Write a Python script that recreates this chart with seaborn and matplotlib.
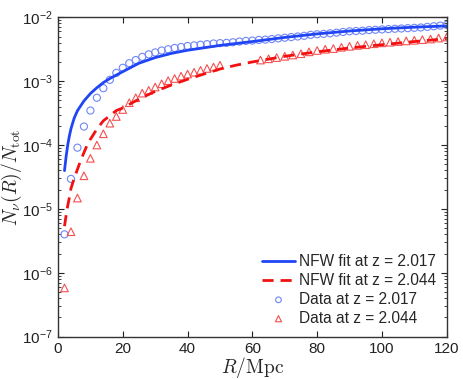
import numpy as np
import matplotlib
matplotlib.use("Agg")
import matplotlib.pyplot as plt
import seaborn as sns

# 数据：R (Mpc) 与 N_nu(R)/N_tot
r_data_1 = list(range(2, 122, 2))
n_data_1 = [4.0e-6, 2.95e-5, 9.1e-5, 1.95e-4, 3.47e-4, 5.5e-4, 7.76e-4, 1.05e-3, 1.35e-3, 1.62e-3,
            1.91e-3, 2.14e-3, 2.40e-3, 2.63e-3, 2.82e-3, 3.02e-3, 3.16e-3, 3.31e-3, 3.43e-3, 3.55e-3,
            3.63e-3, 3.72e-3, 3.80e-3, 3.89e-3, 3.94e-3, 3.98e-3, 4.07e-3, 4.17e-3, 4.27e-3, 4.32e-3,
            4.42e-3, 4.47e-3, 4.57e-3, 4.68e-3, 4.79e-3, 4.90e-3, 5.01e-3, 5.13e-3, 5.31e-3, 5.43e-3,
            5.50e-3, 5.62e-3, 5.75e-3, 5.89e-3, 6.03e-3, 6.10e-3, 6.17e-3, 6.31e-3, 6.38e-3, 6.46e-3,
            6.53e-3, 6.61e-3, 6.68e-3, 6.76e-3, 6.84e-3, 6.92e-3, 7.08e-3, 7.24e-3, 7.41e-3, 7.59e-3]

r_data_2 = [2, 4, 6, 8, 10, 12, 14, 16, 18, 20, 22, 24, 26, 28, 30, 32, 34, 36, 38, 40, 42, 44, 46, 48, 50,
            62.5, 65, 67.5, 70, 72.5, 75, 77.5, 80, 82.5, 85, 87.5, 90, 92.5, 95, 97.5, 100,
            102.5, 105, 107.5, 110, 112.5, 115, 117.5, 120]
n_data_2 = [5.8e-7, 4.4e-6, 1.48e-5, 3.3e-5, 6.2e-5, 1.0e-4, 1.5e-4, 2.2e-4, 2.8e-4, 3.6e-4,
            4.6e-4, 5.5e-4, 6.5e-4, 7.2e-4, 8.1e-4, 9.1e-4, 1.02e-3, 1.10e-3, 1.20e-3, 1.29e-3,
            1.38e-3, 1.48e-3, 1.58e-3, 1.66e-3, 1.78e-3,
            2.14e-3, 2.24e-3, 2.34e-3, 2.45e-3, 2.57e-3, 2.69e-3, 2.88e-3, 3.02e-3, 3.16e-3, 3.24e-3,
            3.39e-3, 3.51e-3, 3.63e-3, 3.72e-3, 3.85e-3, 3.98e-3, 4.07e-3, 4.17e-3, 4.27e-3, 4.37e-3,
            4.47e-3, 4.57e-3, 4.73e-3, 4.90e-3]

r_fit_1 = [2, 2.5, 3, 3.5, 4, 5, 6, 8, 10, 12, 14, 16, 20, 25, 30, 35, 40, 50, 60, 70, 80, 90, 100, 110, 120]
n_fit_1 = [3.98e-5, 6.6e-5, 1.0e-4, 1.38e-4, 1.80e-4, 2.65e-4, 3.45e-4, 4.9e-4, 6.4e-4, 7.9e-4,
           9.5e-4, 1.10e-3, 1.41e-3, 1.91e-3, 2.34e-3, 2.72e-3, 3.05e-3, 3.63e-3, 4.17e-3, 4.84e-3,
           5.50e-3, 6.10e-3, 6.61e-3, 7.0e-3, 7.33e-3]

r_fit_2 = [2, 2.5, 3, 3.5, 4, 5, 6, 7, 8, 9, 10, 12, 14, 16, 18, 20, 25, 30, 35, 40, 45, 50, 55, 60,
           70, 80, 90, 100, 110, 120]
n_fit_2 = [5.37e-6, 7.94e-6, 1.12e-5, 1.51e-5, 2.09e-5, 3.02e-5, 4.17e-5, 5.75e-5, 7.59e-5, 1.0e-4,
           1.23e-4, 1.78e-4, 2.40e-4, 2.88e-4, 3.47e-4, 3.80e-4, 5.25e-4, 6.92e-4, 8.71e-4, 1.07e-3,
           1.29e-3, 1.55e-3, 1.78e-3, 2.0e-3, 2.45e-3, 2.88e-3, 3.31e-3, 3.72e-3, 4.17e-3, 4.62e-3]

labels = ["NFW fit at z = 2.017", "NFW fit at z = 2.044", "Data at z = 2.017", "Data at z = 2.044"]
blue = "#2045f5"
blue_light = "#6f86f7"
red = "#f21010"
red_light = "#f55050"

sns.set_style("ticks")
plt.rcParams["font.family"] = ["Liberation Sans", "DejaVu Sans"]
plt.rcParams["mathtext.fontset"] = "cm"
plt.rcParams["xtick.direction"] = "in"
plt.rcParams["ytick.direction"] = "in"

fig = plt.figure(figsize=(4.63, 3.80), dpi=100)
ax = fig.add_axes([0.1253, 0.114, 0.8395, 0.8405])

sns.lineplot(x=r_fit_1, y=n_fit_1, ax=ax, color=blue, lw=2.0, label=labels[0])
sns.lineplot(x=r_fit_2, y=n_fit_2, ax=ax, color=red, lw=2.0, label=labels[1])
ax.lines[1].set_dashes([4, 2.5])
sns.scatterplot(x=r_data_1, y=n_data_1, ax=ax, marker="o", s=26, facecolor="none",
                edgecolor=blue_light, linewidth=0.8, label=labels[2])
sns.scatterplot(x=r_data_2, y=n_data_2, ax=ax, marker="^", s=30, facecolor="none",
                edgecolor=red_light, linewidth=0.8, label=labels[3])

ax.set_yscale("log")
ax.set_xlim(0, 120)
ax.set_ylim(1e-7, 1e-2)
ax.set_xticks([0, 20, 40, 60, 80, 100, 120])
ax.tick_params(which="both", top=True, right=True, labelsize=11, colors="#222222")
ax.tick_params(which="major", length=4, width=0.8)
ax.tick_params(which="minor", length=2, width=0.6)
for s in ax.spines.values():
    s.set_color("#333333")
    s.set_linewidth(1.0)

ax.set_xlabel(r"$R/\mathrm{Mpc}$", fontsize=14)
ax.set_ylabel(r"$N_\nu(R)/N_{\rm tot}$", fontsize=14)
ax.xaxis.set_label_coords(0.5, -0.056)
ax.yaxis.set_label_coords(-0.088, 0.5)

handles, labs = ax.get_legend_handles_labels()
leg = ax.legend(handles, labs, loc="lower right", frameon=False, fontsize=11.2,
                handlelength=2.1, handletextpad=0.25, labelspacing=0.25,
                borderaxespad=0.3, markerscale=0.8)

plt.savefig("out.png", dpi=100)
plt.close()
